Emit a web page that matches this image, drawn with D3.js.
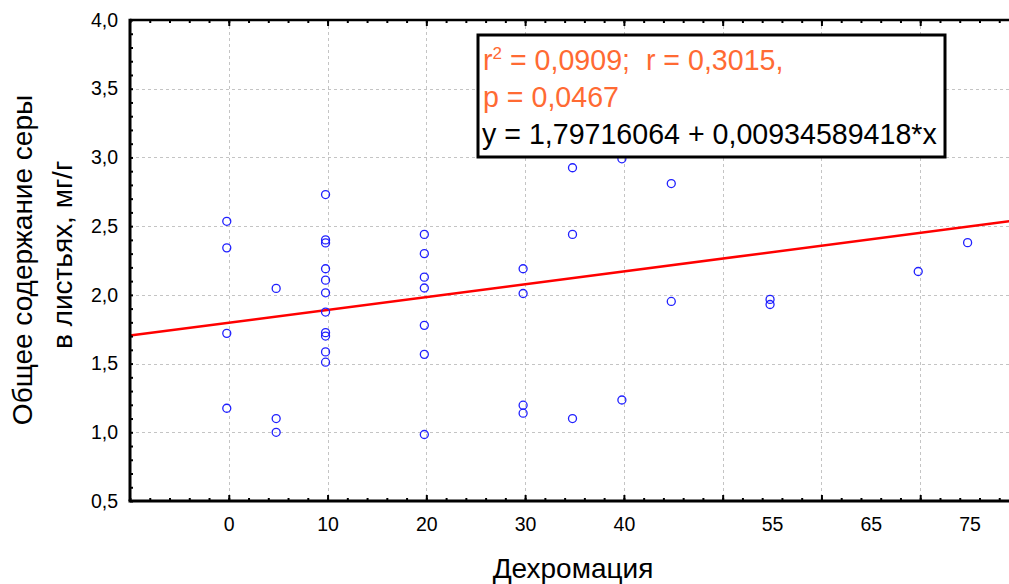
<!DOCTYPE html>
<html>
<head>
<meta charset="utf-8">
<script src="https://cdn.jsdelivr.net/npm/d3@7"></script>
<style>
  body { margin: 0; background: #fff; }
  svg { display: block; font-family: "Liberation Sans", Arial, sans-serif; }
</style>
</head>
<body>
<script>
// Dechromation (%) and total sulfur content in leaves (mg/g)
const dechromation = [
  0, 0, 0, 0,
  5, 5, 5,
  10, 10, 10, 10, 10, 10, 10, 10, 10, 10, 10,
  20, 20, 20, 20, 20, 20, 20,
  30, 30, 30, 30,
  35, 35, 35,
  40, 40,
  45, 45,
  55, 55,
  70,
  75
];
const sulfur = [
  2.535, 2.342, 1.72, 1.175,
  2.047, 1.10, 1.00,
  2.73, 2.40, 2.378, 2.19, 2.107, 2.015, 1.875, 1.725, 1.70, 1.585, 1.51,
  2.44, 2.30, 2.129, 2.05, 1.778, 1.567, 0.984,
  2.19, 2.01, 1.197, 1.139,
  2.925, 2.44, 1.10,
  2.99, 1.235,
  2.81, 1.952,
  1.967, 1.93,
  2.17,
  2.38
];

const xLabelTicks = [0, 10, 20, 30, 40, 55, 65, 75];
const xGridTicks = [0, 10, 20, 30, 40, 50, 60, 70];
const yTicks = [0.5, 1.0, 1.5, 2.0, 2.5, 3.0, 3.5, 4.0];

const intercept = 1.79716064;
const slope = 0.00934589418;
const statsLines = ["r2 = 0,0909;\u00a0 r = 0,3015,", "p = 0,0467", "y = 1,79716064 + 0,00934589418*x"];

const W = 1009, H = 584;
const plot = { left: 130, right: 1019, top: 20, bottom: 501 };

const svg = d3.select("body").append("svg")
  .attr("width", W)
  .attr("height", H);

const x = d3.scaleLinear().domain([-10, 80]).range([plot.left, plot.right]);
const y = d3.scaleLinear().domain([0.5, 4.0]).range([plot.bottom, plot.top]);
const commaFmt = d => d3.format(".1f")(d).replace(".", ",");

// grid
const grid = svg.append("g")
  .attr("stroke", "#c4c4c4")
  .attr("stroke-width", 1)
  .attr("stroke-dasharray", "3,3");
grid.selectAll("line.v")
  .data(xGridTicks)
  .enter().append("line")
  .attr("x1", d => Math.round(x(d)) + 0.5)
  .attr("x2", d => Math.round(x(d)) + 0.5)
  .attr("y1", plot.top)
  .attr("y2", plot.bottom);
grid.selectAll("line.h")
  .data(yTicks.slice(1, -1))
  .enter().append("line")
  .attr("x1", plot.left)
  .attr("x2", plot.right)
  .attr("y1", d => Math.round(y(d)) + 0.5)
  .attr("y2", d => Math.round(y(d)) + 0.5);

// regression line
svg.append("line")
  .attr("x1", x(-10))
  .attr("y1", y(intercept + slope * -10))
  .attr("x2", x(80))
  .attr("y2", y(intercept + slope * 80))
  .attr("stroke", "#ff0000")
  .attr("stroke-width", 2.5);

// points (Statistica draws them a hair left of the grid)
const points = dechromation.map((d, i) => ({ x: d, y: sulfur[i] }));
svg.append("g").selectAll("circle")
  .data(points)
  .enter().append("circle")
  .attr("cx", d => x(d.x) - 2)
  .attr("cy", d => y(d.y))
  .attr("r", 4)
  .attr("fill", "none")
  .attr("stroke", "#2020ff")
  .attr("stroke-width", 1.3);

// axes: minor ticks
const minorX = d3.range(-10, 81, 2);
const minorY = d3.range(5, 41).map(v => v / 10);

const styleAxis = g => {
  g.select(".domain").remove();
  g.selectAll(".tick line").attr("stroke", "#000").attr("stroke-width", 2);
};

svg.append("g")
  .attr("transform", `translate(0,${plot.bottom})`)
  .call(d3.axisBottom(x).tickValues(minorX).tickSize(-3).tickFormat(""))
  .call(styleAxis);
svg.append("g")
  .attr("transform", `translate(0,${plot.bottom})`)
  .call(d3.axisBottom(x).tickValues(xGridTicks).tickSize(-6).tickFormat(""))
  .call(styleAxis);
svg.append("g")
  .attr("transform", `translate(0,${plot.top})`)
  .call(d3.axisTop(x).tickValues(minorX).tickSize(-3).tickFormat(""))
  .call(styleAxis);
svg.append("g")
  .attr("transform", `translate(0,${plot.top})`)
  .call(d3.axisTop(x).tickValues(xGridTicks).tickSize(-6).tickFormat(""))
  .call(styleAxis);
svg.append("g")
  .attr("transform", `translate(${plot.left},0)`)
  .call(d3.axisLeft(y).tickValues(minorY).tickSize(-3).tickFormat(""))
  .call(styleAxis);

// tick labels
svg.append("g")
  .attr("transform", `translate(0,${plot.bottom})`)
  .call(d3.axisBottom(x).tickValues(xLabelTicks).tickSize(0).tickPadding(16).tickFormat(d3.format("d")))
  .call(g => g.select(".domain").remove())
  .selectAll("text")
  .attr("font-size", 19.5)
  .attr("fill", "#000")
  .attr("font-family", "Liberation Sans, Arial, sans-serif");

svg.append("g")
  .attr("transform", `translate(${plot.left},0)`)
  .call(d3.axisLeft(y).tickValues(yTicks).tickSize(0).tickPadding(12).tickFormat(commaFmt))
  .call(g => g.select(".domain").remove())
  .selectAll("text")
  .attr("font-size", 19.5)
  .attr("fill", "#000")
  .attr("font-family", "Liberation Sans, Arial, sans-serif");

// frame lines
svg.append("line")
  .attr("x1", plot.left).attr("x2", plot.right)
  .attr("y1", plot.top).attr("y2", plot.top)
  .attr("stroke", "#000").attr("stroke-width", 2.5);
svg.append("line")
  .attr("x1", plot.left - 1.5).attr("x2", plot.right)
  .attr("y1", plot.bottom).attr("y2", plot.bottom)
  .attr("stroke", "#000").attr("stroke-width", 3);
svg.append("line")
  .attr("x1", plot.left).attr("x2", plot.left)
  .attr("y1", plot.top - 1.2).attr("y2", plot.bottom)
  .attr("stroke", "#000").attr("stroke-width", 3);

// stats box
const box = svg.append("g");
box.append("rect")
  .attr("x", 478).attr("y", 35)
  .attr("width", 467).attr("height", 122)
  .attr("fill", "#fff")
  .attr("stroke", "#000")
  .attr("stroke-width", 3);

const line1 = box.append("text")
  .attr("x", 483).attr("y", 70)
  .attr("font-size", 28.6)
  .attr("fill", "#ff6a33");
line1.append("tspan").text("r");
line1.append("tspan").attr("font-size", 17).attr("dy", -11).text("2");
line1.append("tspan").attr("dy", 11).text(statsLines[0].slice(2));

box.append("text")
  .attr("x", 483).attr("y", 107)
  .attr("font-size", 28.6)
  .attr("fill", "#ff6a33")
  .text(statsLines[1]);

box.append("text")
  .attr("x", 482).attr("y", 144)
  .attr("font-size", 28.6)
  .attr("fill", "#000")
  .text(statsLines[2]);

// axis titles
svg.append("text")
  .attr("x", 573).attr("y", 578)
  .attr("text-anchor", "middle")
  .attr("font-size", 28)
  .text("Дехромация");

svg.append("text")
  .attr("transform", "translate(32,260) rotate(-90)")
  .attr("text-anchor", "middle")
  .attr("font-size", 28)
  .text("Общее содержание серы");

svg.append("text")
  .attr("transform", "translate(72,255) rotate(-90)")
  .attr("text-anchor", "middle")
  .attr("font-size", 28)
  .text("в листьях, мг/г");
</script>
</body>
</html>
